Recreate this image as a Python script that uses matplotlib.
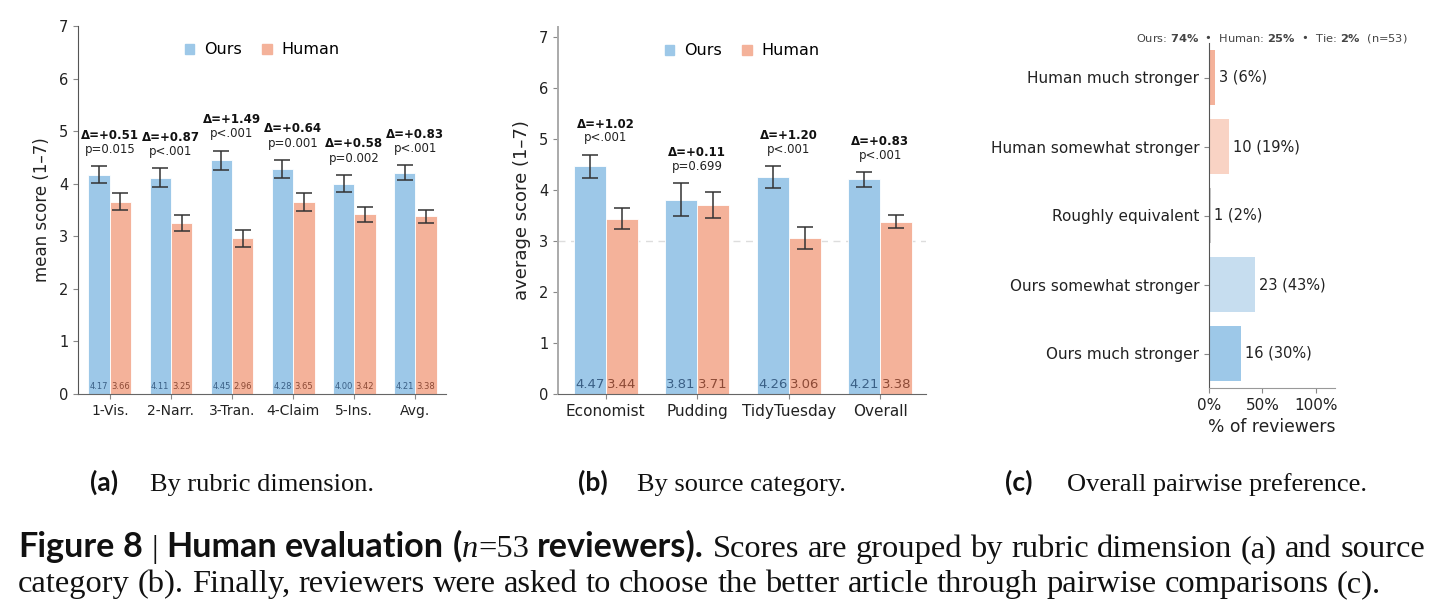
import matplotlib.pyplot as plt
from matplotlib.patches import Patch
import numpy as np

#=========== data ===========
dims = ["1-Vis.", "2-Narr.", "3-Tran.", "4-Claim", "5-Ins.", "Avg."]
dim_ours = [4.17, 4.11, 4.45, 4.28, 4.00, 4.21]
dim_human = [3.66, 3.25, 2.96, 3.65, 3.42, 3.38]
dim_ours_err = [0.16, 0.18, 0.18, 0.17, 0.165, 0.14]
dim_human_err = [0.16, 0.155, 0.16, 0.165, 0.145, 0.125]
dim_delta = ["+0.51", "+0.87", "+1.49", "+0.64", "+0.58", "+0.83"]
dim_p = ["p=0.015", "p<.001", "p<.001", "p=0.001", "p=0.002", "p<.001"]

srcs = ["Economist", "Pudding", "TidyTuesday", "Overall"]
src_ours = [4.47, 3.81, 4.26, 4.21]
src_human = [3.44, 3.71, 3.06, 3.38]
src_ours_err = [0.225, 0.325, 0.21, 0.14]
src_human_err = [0.20, 0.26, 0.21, 0.13]
src_delta = ["+1.02", "+0.11", "+1.20", "+0.83"]
src_p = ["p<.001", "p=0.699", "p<.001", "p<.001"]

pref_labels = ["Ours much stronger", "Ours somewhat stronger", "Roughly equivalent",
               "Human somewhat stronger", "Human much stronger"]
pref_counts = [16, 23, 1, 10, 3]
n_reviewers = 53

#=========== style ===========
BLUE = "#9DC8E8"
SALMON = "#F4B29A"
BLUE_LIGHT = "#C6DDEF"
SALMON_LIGHT = "#F9D3C4"
TIE_GREY = "#C8C8C8"
OURS_TXT = "#3A5F85"
HUMAN_TXT = "#8C4A36"

W, H = 1442, 613
plt.rcParams['font.family'] = ['DejaVu Sans']
fig = plt.figure(figsize=(W / 100, H / 100), dpi=100)


def px_axes(left, top, right, bottom):
    return fig.add_axes([left / W, 1 - bottom / H, (right - left) / W, (bottom - top) / H])


def style_axes(ax, left_color="#555555", labelsize=10):
    for s in ["top", "right"]:
        ax.spines[s].set_visible(False)
    ax.spines["left"].set_color(left_color)
    ax.spines["bottom"].set_color("#666666")
    ax.tick_params(colors="#888888", labelcolor="#222222", length=3.5, labelsize=labelsize)


def grouped(ax, cats, ours, human, oerr, herr, deltas, ps, val_fs, val_y, tick_fs):
    x = np.arange(len(cats))
    w = 0.35
    ax.bar(x - w / 2, ours, w, color=BLUE, edgecolor="white", linewidth=0.6, zorder=2)
    ax.bar(x + w / 2, human, w, color=SALMON, edgecolor="white", linewidth=0.6, zorder=2)
    ax.errorbar(x - w / 2, ours, yerr=oerr, fmt="none", ecolor="#333333",
                elinewidth=1.1, capsize=5.5, capthick=1.1, zorder=3)
    ax.errorbar(x + w / 2, human, yerr=herr, fmt="none", ecolor="#333333",
                elinewidth=1.1, capsize=5.5, capthick=1.1, zorder=3)
    for i in range(len(cats)):
        top = max(ours[i] + oerr[i], human[i] + herr[i])
        ax.text(x[i], top + 0.2, ps[i], ha="center", va="bottom", fontsize=8.5, color="#222222")
        ax.text(x[i], top + 0.47, "Δ=" + deltas[i], ha="center", va="bottom",
                fontsize=8.5, fontweight="bold", color="#111111")
        ax.text(x[i] - w / 2, val_y, f"{ours[i]:.2f}", ha="center", va="bottom",
                fontsize=val_fs, color=OURS_TXT, zorder=4)
        ax.text(x[i] + w / 2, val_y, f"{human[i]:.2f}", ha="center", va="bottom",
                fontsize=val_fs, color=HUMAN_TXT, zorder=4)
    ax.set_xticks(x)
    ax.set_xticklabels(cats, fontsize=tick_fs)
    ax.set_xlim(-0.52, len(cats) - 0.5)
    ax.set_yticks(range(8))
    ax.legend(handles=[Patch(color=BLUE, label="Ours"), Patch(color=SALMON, label="Human")],
              loc="upper center", bbox_to_anchor=(0.5, 0.995), ncol=2, frameon=False,
              fontsize=11.5, handlelength=0.6, handleheight=0.6, handletextpad=0.6,
              columnspacing=1.3)


# (a) by rubric dimension
ax1 = px_axes(78, 26, 446, 394)
grouped(ax1, dims, dim_ours, dim_human, dim_ours_err, dim_human_err, dim_delta, dim_p,
        6, 0.05, 10)
ax1.set_ylim(0, 7)
ax1.set_ylabel("mean score (1–7)", fontsize=12, color="#222222", labelpad=6)
style_axes(ax1, labelsize=10.5)
ax1.tick_params(axis="x", labelsize=10)

# (b) by source category
ax2 = px_axes(558, 27, 926, 394)
ax2.axhline(3, color="#DDDDDD", linestyle=(0, (5, 4)), linewidth=1, zorder=0)
grouped(ax2, srcs, src_ours, src_human, src_ours_err, src_human_err, src_delta, src_p,
        9.5, 0.06, 11)
ax2.set_ylim(0, 7.2)
ax2.set_ylabel("average score (1–7)", fontsize=13, color="#222222", labelpad=6)
style_axes(ax2, left_color="#AAAAAA", labelsize=10.5)
ax2.tick_params(axis="x", labelsize=11)
ax2.spines["left"].set_linewidth(1.4)

# (c) pairwise preference
ax3 = px_axes(1209, 43, 1335, 388)
pref_pct = [100 * c / n_reviewers for c in pref_counts]
pref_colors = [BLUE, BLUE_LIGHT, TIE_GREY, SALMON_LIGHT, SALMON]
yy = np.arange(len(pref_labels))
ax3.barh(yy, pref_pct, height=0.8, color=pref_colors, zorder=2)
for i in range(len(pref_labels)):
    ax3.annotate(f"{pref_counts[i]} ({pref_pct[i]:.0f}%)", (pref_pct[i], yy[i]),
                 xytext=(2.5, 0), textcoords="offset points", ha="left", va="center",
                 fontsize=10.5, color="#222222")
ax3.set_yticks(yy)
ax3.set_yticklabels(pref_labels)
ax3.set_ylim(-0.5, 4.5)
ax3.set_xlim(0, 118)
ax3.set_xticks([0, 50, 100])
ax3.set_xticklabels(["0%", "50%", "100%"])
ax3.set_xlabel("% of reviewers", fontsize=12.3, color="#222222")
style_axes(ax3, labelsize=11)
ax3.spines["bottom"].set_color("#999999")
ours_share = round(100 * (pref_counts[0] + pref_counts[1]) / n_reviewers)
human_share = round(100 * (pref_counts[3] + pref_counts[4]) / n_reviewers)
tie_share = round(100 * pref_counts[2] / n_reviewers)
ax3.text(0.5, 1.012,
         rf"Ours: $\mathbf{{{ours_share}\%}}$  •  Human: $\mathbf{{{human_share}\%}}$"
         rf"  •  Tie: $\mathbf{{{tie_share}\%}}$  (n={n_reviewers})",
         transform=ax3.transAxes, ha="center", va="center", fontsize=8.2, color="#444444")

#=========== captions ===========
renderer = fig.canvas.get_renderer()
SERIF = "Liberation Serif"
BOLD_SANS = "Lato"


def width_of(s, props):
    t = fig.text(0, 0, s, **props)
    w = t.get_window_extent(renderer).width
    t.remove()
    return w


def draw_line(tokens, x0, y, space, target=None):
    widths = [sum(width_of(s, p) for s, p in tok) for tok in tokens]
    gap = space if target is None else (target - sum(widths)) / (len(tokens) - 1)
    x = x0
    for tok, w in zip(tokens, widths):
        for s, p in tok:
            fig.text(x / W, 1 - y / H, s, ha="left", va="baseline", **p)
            x += width_of(s, p)
        x += gap


def words(text, props):
    return [[(w, props)] for w in text.split()]


# sub captions
sub_fs = 19
sub_bold = dict(family=BOLD_SANS, weight="bold", fontsize=sub_fs, color="#111111")
sub_reg = dict(family=SERIF, fontsize=sub_fs, color="#111111")
for lab, txt, xl, xt in [("(a)", "By rubric dimension.", 90, 150),
                         ("(b)", "By source category.", 578, 637),
                         ("(c)", "Overall pairwise preference.", 1005, 1067)]:
    fig.text(xl / W, 1 - 491 / H, lab, ha="left", va="baseline", **sub_bold)
    fig.text(xt / W, 1 - 491 / H, txt, ha="left", va="baseline", **sub_reg)

# main caption, font size fitted to second line
line2_text = ("category (b). Finally, reviewers were asked to choose the better "
              "article through pairwise comparisons (c).")
ref = dict(family=SERIF, fontsize=20, color="#111111")
sp_ref = width_of("n n", ref) - 2 * width_of("n", ref)
nat = sum(width_of(w, ref) for w in line2_text.split()) + sp_ref * (len(line2_text.split()) - 1)
cap_fs = 20 * 1362 / nat
reg = dict(family=SERIF, fontsize=cap_fs, color="#111111")
bold = dict(family=BOLD_SANS, weight="bold", fontsize=cap_fs * 1.05, color="#111111")
ital = dict(family=SERIF, style="italic", fontsize=cap_fs, color="#111111")
space = width_of("n n", reg) - 2 * width_of("n", reg)

line1 = (words("Figure 8", bold) + [[("|", reg)]] + words("Human evaluation", bold)
         + [[("(", bold), ("n", ital), ("=53", reg)]] + words("reviewers).", bold)
         + words("Scores are grouped by rubric dimension (a) and source", reg))
draw_line(line1, 18, 557, space, target=1407)
draw_line(words(line2_text, reg), 18, 592, space)

plt.savefig("out.png", dpi=100)
